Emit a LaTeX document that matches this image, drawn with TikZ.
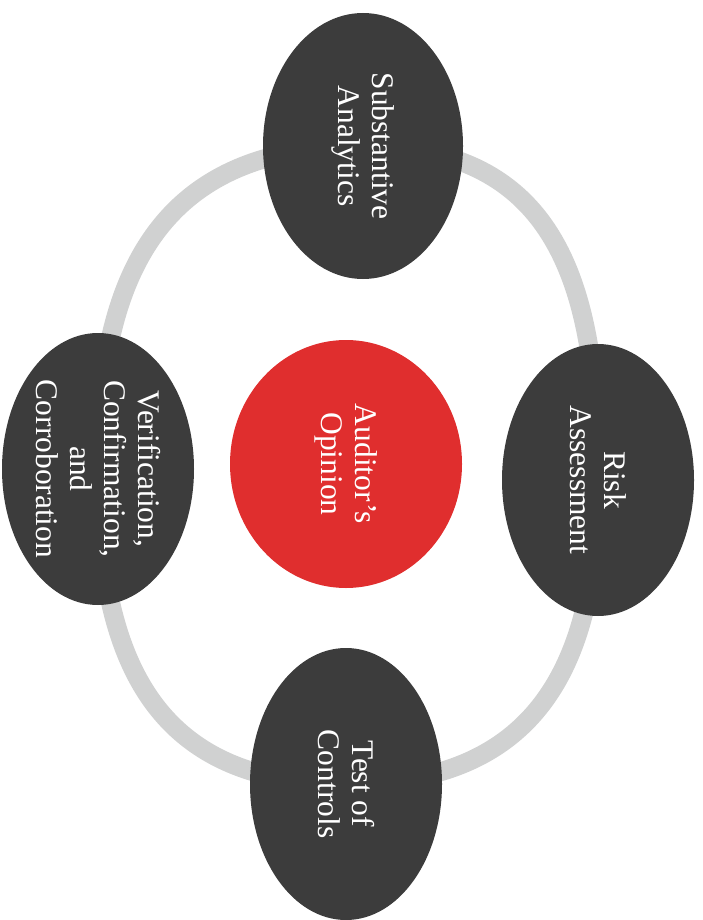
\documentclass[tikz,border=0pt]{standalone}
\usepackage{fontspec}
\setmainfont{Liberation Serif}
\usetikzlibrary{shapes.geometric,backgrounds}

\definecolor{stagegray}{RGB}{60,60,60}
\definecolor{opinionred}{RGB}{224,46,46}
\definecolor{ringgray}{RGB}{208,209,209}

\tikzset{
  stage/.style={ellipse, fill=stagegray, text=white, inner sep=0pt, rotate=-90,
    minimum width=272pt, minimum height=192pt, align=center,
    font=\fontsize{31.5}{34}\selectfont},
  core/.style={stage, fill=opinionred, minimum width=248pt, minimum height=232pt},
  ring/.style={ringgray, line width=19pt, looseness=1.22}
}

\begin{document}
\begin{tikzpicture}[x=1pt, y=-1pt]
    \useasboundingbox (0,0) rectangle (702,920);
    % centre
    \node[core] (opinion) at (346,464) {Auditor's\\Opinion};
    % the four stages, clockwise from the top
    \node[stage, minimum width=266pt, minimum height=200pt] (subst) at (363,146) {Substantive\\Analytics};
    \node[stage] (risk)  at (598,480) {Risk\\Assessment};
    \node[stage] (tests) at (346,784) {Test of\\Controls};
    \node[stage] (verif) at (98,469)  {Verification,\\Confirmation,\\and\\Corroboration};
    % the cycle behind the stages
    \begin{pgfonlayer}{background}
      \draw[ring] (subst.center) to[out=0, in=90] (risk.center)
                  to[out=-90, in=0] (tests.center)
                  to[out=180, in=-90] (verif.center)
                  to[out=90, in=180] (subst.center);
    \end{pgfonlayer}
\end{tikzpicture}
\end{document}
